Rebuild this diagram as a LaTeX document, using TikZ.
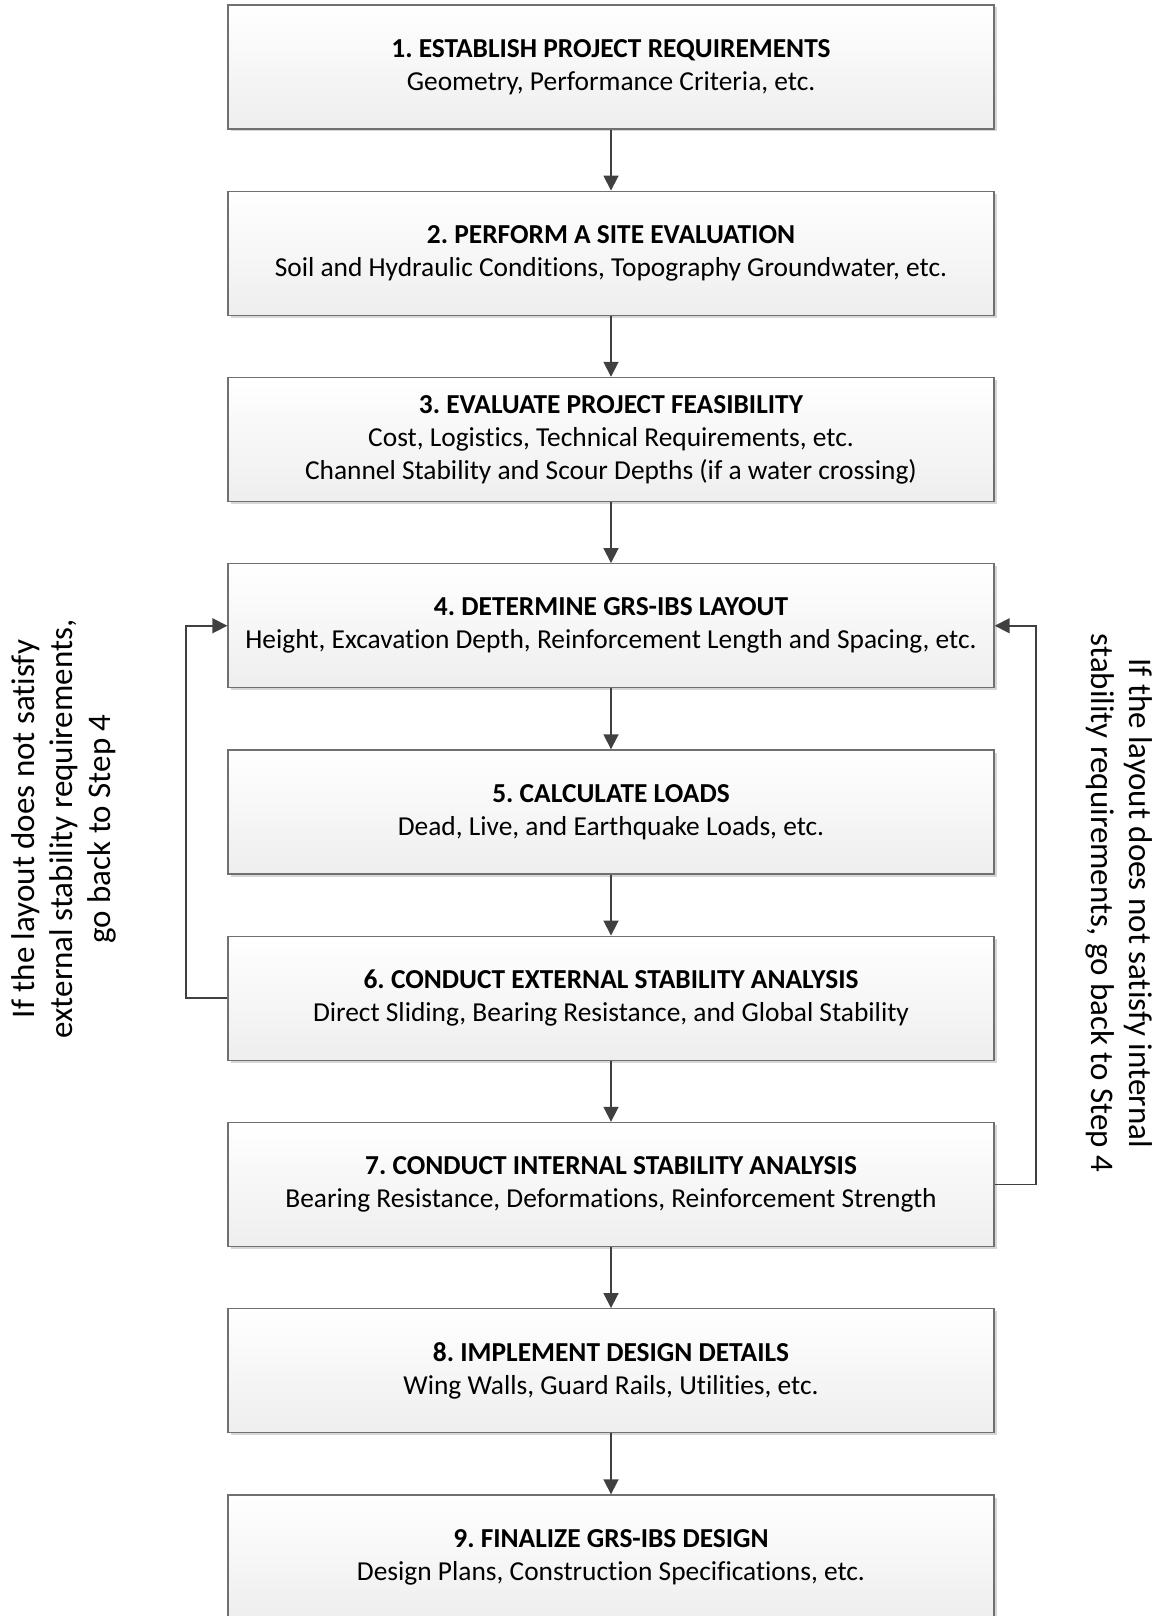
\documentclass[tikz,border=0pt]{standalone}
\usepackage{fontspec}
\setmainfont{Carlito}[Ligatures={NoCommon}]
\frenchspacing
\usetikzlibrary{arrows.meta,shadows}
\definecolor{boxline}{HTML}{707070}
\definecolor{arrline}{HTML}{404040}
\definecolor{boxbot}{HTML}{EEEEEE}
\definecolor{shadowc}{HTML}{D6D6D6}
\tikzset{
  stepbox/.style={draw=boxline, line width=1.4pt, top color=white, bottom color=boxbot,
    minimum width=766pt, minimum height=124pt, inner sep=0pt, align=center,
    font=\fontsize{27.4}{33}\selectfont,
    drop shadow={shadow xshift=2.5pt, shadow yshift=-2.5pt, fill=shadowc, opacity=1}},
  arr/.style={draw=arrline, line width=1.8pt, -{Triangle[length=15pt,width=15pt]}},
  sidetext/.style={align=center, font=\fontsize{33}{38}\selectfont, inner sep=0pt}
}
\begin{document}
\begin{tikzpicture}[x=1pt,y=-1pt]
\useasboundingbox (0,0) rectangle (1159,1616);
\node[stepbox] (b1) at (611,67) {\textbf{1. ESTABLISH PROJECT REQUIREMENTS}\\Geometry, Performance Criteria, etc.};
\node[stepbox] (b2) at (611,253.25) {\textbf{2. PERFORM A SITE EVALUATION}\\Soil and Hydraulic Conditions, Topography Groundwater, etc.};
\node[stepbox] (b3) at (611,439.5) {\textbf{3. EVALUATE PROJECT FEASIBILITY}\\Cost, Logistics, Technical Requirements, etc.\\Channel Stability and Scour Depths (if a water crossing)};
\node[stepbox] (b4) at (611,625.75) {\textbf{4. DETERMINE GRS-IBS LAYOUT}\\Height, Excavation Depth, Reinforcement Length and Spacing, etc.};
\node[stepbox] (b5) at (611,812) {\textbf{5. CALCULATE LOADS}\\Dead, Live, and Earthquake Loads, etc.};
\node[stepbox] (b6) at (611,998.25) {\textbf{6. CONDUCT EXTERNAL STABILITY ANALYSIS}\\Direct Sliding, Bearing Resistance, and Global Stability};
\node[stepbox] (b7) at (611,1184.5) {\textbf{7. CONDUCT INTERNAL STABILITY ANALYSIS}\\Bearing Resistance, Deformations, Reinforcement Strength};
\node[stepbox] (b8) at (611,1370.75) {\textbf{8. IMPLEMENT DESIGN DETAILS}\\Wing Walls, Guard Rails, Utilities, etc.};
\node[stepbox] (b9) at (611,1557) {\textbf{9. FINALIZE GRS-IBS DESIGN}\\Design Plans, Construction Specifications, etc.};
\foreach \a/\b in {b1/b2,b2/b3,b3/b4,b4/b5,b5/b6,b6/b7,b7/b8,b8/b9}
  \draw[arr] (\a.south) -- (\b.north);
\draw[arr] (b6.west) -- ++(-41,0) |- (b4.west);
\draw[arr] (b7.east) -- ++(41,0) |- (b4.east);
\node[sidetext, rotate=90] (lt) at (64,829) {If the layout does not satisfy\\external stability requirements,\\go back to Step 4};
\node[sidetext, rotate=-90] (rt) at (1119,903) {If the layout does not satisfy internal\\stability requirements, go back to Step 4};
\end{tikzpicture}
\end{document}
